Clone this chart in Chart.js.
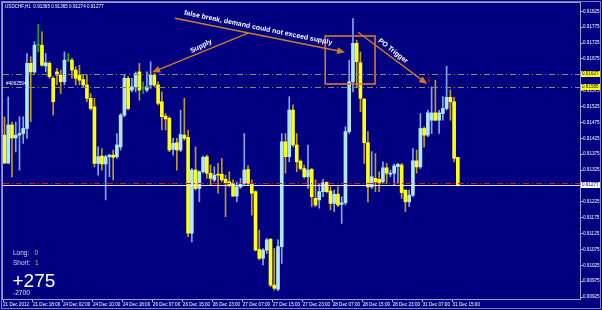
<!DOCTYPE html>
<html>
<head>
<meta charset="utf-8">
<script src="https://cdn.jsdelivr.net/npm/chart.js@4.4.0/dist/chart.umd.min.js"></script>
<style>
  html, body { margin: 0; padding: 0; background: #000080; }
  #wrap { width: 602px; height: 310px; }
</style>
</head>
<body>
<div id="wrap"><canvas id="chart" width="602" height="310"></canvas></div>
<script>
// USDCHF H1, 21 Dec 2012 - 31 Dec 2012
const timeLabels = ['21 Dec 2012', '21 Dec 18:00', '24 Dec 02:00', '24 Dec 10:00', '24 Dec 18:00',
  '26 Dec 07:00', '26 Dec 15:00', '26 Dec 23:00', '27 Dec 07:00', '27 Dec 15:00', '27 Dec 23:00',
  '28 Dec 07:00', '28 Dec 15:00', '28 Dec 23:00', '31 Dec 07:00', '31 Dec 15:00'];

const priceTicks = [0.91825, 0.91775, 0.91725, 0.91675, 0.91625, 0.91575, 0.91525, 0.91475, 0.91425,
  0.91375, 0.91325, 0.91275, 0.91225, 0.91175, 0.91125, 0.91075, 0.91025, 0.90975, 0.90925];

const openP = [
  0.91435,0.91347,0.91467,0.91426,0.91435,0.91440,0.91456,0.91661,0.91634,0.91718,
  0.91718,0.91653,0.91661,0.91614,0.91634,0.91624,0.91603,0.91671,0.91671,0.91640,
  0.91624,0.91610,0.91593,0.91551,0.91524,0.91346,0.91369,0.91344,0.91367,0.91372,
  0.91367,0.91398,0.91498,0.91614,0.91577,0.91587,0.91634,0.91582,0.91577,0.91593,
  0.91624,0.91593,0.91540,0.91495,0.91488,0.91390,0.91411,0.91388,0.91435,0.91428,
  0.91126,0.91325,0.91267,0.91320,0.91367,0.91315,0.91294,0.91311,0.91312,0.91296,
  0.91288,0.91283,0.91243,0.91272,0.91283,0.91327,0.91283,0.91257,0.91075,0.91047,
  0.91073,0.91107,0.90963,0.90950,0.91084,0.91414,0.91367,0.91514,0.91404,0.91353,
  0.91330,0.91304,0.91327,0.91236,0.91231,0.91257,0.91286,0.91259,0.91220,0.91249,
  0.91217,0.91222,0.91446,0.91603,0.91724,0.91663,0.91548,0.91411,0.91272,0.91299,
  0.91296,0.91288,0.91332,0.91312,0.91315,0.91336,0.91341,0.91262,0.91225,0.91246,
  0.91354,0.91335,0.91456,0.91435,0.91482,0.91505,0.91482,0.91503,0.91519,0.91554,
  0.91540,0.91365];
const highP = [
  0.91492,0.91555,0.91476,0.91476,0.91493,0.91493,0.91692,0.91682,0.91729,0.91784,
  0.91760,0.91692,0.91666,0.91619,0.91645,0.91640,0.91697,0.91692,0.91677,0.91650,
  0.91655,0.91624,0.91624,0.91566,0.91551,0.91398,0.91393,0.91372,0.91374,0.91388,
  0.91440,0.91503,0.91624,0.91619,0.91614,0.91634,0.91661,0.91603,0.91634,0.91666,
  0.91629,0.91603,0.91571,0.91503,0.91493,0.91425,0.91425,0.91514,0.91551,0.91451,
  0.91330,0.91398,0.91322,0.91369,0.91372,0.91341,0.91335,0.91346,0.91362,0.91309,
  0.91320,0.91294,0.91288,0.91299,0.91440,0.91339,0.91294,0.91260,0.91136,0.91078,
  0.91110,0.91110,0.91078,0.91105,0.91440,0.91440,0.91556,0.91530,0.91440,0.91357,
  0.91341,0.91404,0.91330,0.91294,0.91283,0.91296,0.91288,0.91272,0.91262,0.91272,
  0.91241,0.91461,0.91671,0.91802,0.91734,0.91697,0.91551,0.91446,0.91383,0.91377,
  0.91320,0.91351,0.91346,0.91325,0.91344,0.91346,0.91346,0.91262,0.91262,0.91393,
  0.91388,0.91503,0.91461,0.91514,0.91587,0.91608,0.91514,0.91556,0.91652,0.91577,
  0.91554,0.91365];
const lowP = [
  0.91345,0.91345,0.91303,0.91382,0.91325,0.91409,0.91425,0.91477,0.91629,0.91697,
  0.91652,0.91634,0.91614,0.91498,0.91593,0.91566,0.91593,0.91666,0.91614,0.91593,
  0.91593,0.91587,0.91540,0.91514,0.91335,0.91309,0.91325,0.91231,0.91304,0.91294,
  0.91362,0.91388,0.91493,0.91514,0.91571,0.91571,0.91545,0.91566,0.91571,0.91582,
  0.91587,0.91530,0.91451,0.91451,0.91383,0.91372,0.91325,0.91383,0.91419,0.91115,
  0.91099,0.91262,0.91225,0.91315,0.91299,0.91278,0.91288,0.91252,0.91288,0.91178,
  0.91272,0.91241,0.91225,0.91267,0.91278,0.91278,0.91183,0.91070,0.91042,0.91026,
  0.91063,0.90958,0.90947,0.90945,0.91031,0.91315,0.91351,0.91398,0.91320,0.91325,
  0.91299,0.91267,0.91210,0.91210,0.91205,0.91241,0.91254,0.91199,0.91194,0.91210,
  0.91157,0.91215,0.91440,0.91571,0.91587,0.91509,0.91346,0.91225,0.91267,0.91257,
  0.91257,0.91283,0.91283,0.91304,0.91278,0.91283,0.91236,0.91194,0.91210,0.91241,
  0.91315,0.91330,0.91398,0.91430,0.91440,0.91480,0.91440,0.91482,0.91514,0.91482,
  0.91351,0.91274];
const closeP = [
  0.91347,0.91467,0.91426,0.91435,0.91440,0.91456,0.91661,0.91634,0.91718,0.91718,
  0.91655,0.91663,0.91619,0.91540,0.91624,0.91603,0.91671,0.91671,0.91640,0.91614,
  0.91608,0.91593,0.91551,0.91519,0.91346,0.91367,0.91344,0.91367,0.91372,0.91365,
  0.91404,0.91498,0.91614,0.91519,0.91587,0.91629,0.91577,0.91582,0.91587,0.91624,
  0.91593,0.91535,0.91493,0.91486,0.91388,0.91409,0.91388,0.91437,0.91425,0.91126,
  0.91325,0.91267,0.91320,0.91365,0.91315,0.91299,0.91309,0.91309,0.91294,0.91283,
  0.91278,0.91243,0.91272,0.91283,0.91325,0.91283,0.91252,0.91073,0.91047,0.91073,
  0.91105,0.90963,0.90953,0.91084,0.91414,0.91367,0.91514,0.91404,0.91351,0.91330,
  0.91304,0.91325,0.91241,0.91215,0.91257,0.91285,0.91257,0.91220,0.91249,0.91215,
  0.91222,0.91446,0.91603,0.91724,0.91666,0.91551,0.91411,0.91272,0.91304,0.91288,
  0.91285,0.91332,0.91315,0.91315,0.91338,0.91343,0.91254,0.91225,0.91246,0.91354,
  0.91335,0.91456,0.91435,0.91505,0.91505,0.91482,0.91505,0.91519,0.91554,0.91540,
  0.91362,0.91277];

// horizontal levels drawn on the chart
const supplyLevels = [0.91627, 0.91585];
const signalLevel = 0.91283;
const bidPrice = 0.91277;

// ----------------------
// colours
// ----------------------
const navy = '#000080';
const wickCol = { bull: '#7fa6e8', bear: '#c09a20', doji: '#10a818' };
const bodyCol = { bull: '#b4e6fa', bear: '#ffff10', doji: '#10a818' };
const orange = '#d07a30';
const tickFont = { family: 'Liberation Sans', size: 4.6 };

const idx = openP.map((_, i) => i);
const kind = i => closeP[i] > openP[i] ? 'bull' : (closeP[i] < openP[i] ? 'bear' : 'doji');

// ----------------------
// drawing helpers
// ----------------------
function hLine(ctx, a, py, color, dash) {
  ctx.strokeStyle = color;
  ctx.lineWidth = 1;
  ctx.setLineDash(dash);
  ctx.beginPath();
  ctx.moveTo(a.left, py);
  ctx.lineTo(a.right, py);
  ctx.stroke();
  ctx.setLineDash([]);
}

function arrow(ctx, x0, y0, x1, y1) {
  const ang = Math.atan2(y1 - y0, x1 - x0);
  const len = 8, half = 3.5;
  ctx.strokeStyle = orange;
  ctx.fillStyle = orange;
  ctx.lineWidth = 1.4;
  ctx.beginPath();
  ctx.moveTo(x0, y0);
  ctx.lineTo(x1 - Math.cos(ang) * len * 0.8, y1 - Math.sin(ang) * len * 0.8);
  ctx.stroke();
  ctx.beginPath();
  ctx.moveTo(x1, y1);
  ctx.lineTo(x1 - Math.cos(ang) * len - Math.sin(ang) * half, y1 - Math.sin(ang) * len + Math.cos(ang) * half);
  ctx.lineTo(x1 - Math.cos(ang) * len + Math.sin(ang) * half, y1 - Math.sin(ang) * len - Math.cos(ang) * half);
  ctx.closePath();
  ctx.fill();
}

function rotText(ctx, s, x, y, deg) {
  ctx.save();
  ctx.translate(x, y);
  ctx.rotate(deg * Math.PI / 180);
  ctx.font = 'bold 7px "Liberation Sans"';
  ctx.fillStyle = '#ffffff';
  ctx.textAlign = 'center';
  ctx.textBaseline = 'middle';
  ctx.fillText(s, 0, 0);
  ctx.restore();
}

function txt(ctx, s, x, y, font, color, base) {
  ctx.font = font;
  ctx.fillStyle = color;
  ctx.textAlign = 'left';
  ctx.textBaseline = base || 'middle';
  ctx.fillText(s, x, y);
}

function tag(ctx, a, py, label, bg) {
  ctx.fillStyle = bg;
  ctx.fillRect(a.right + 1, py - 3, 19, 6);
  txt(ctx, label, a.right + 2, py, '4.6px "Liberation Sans"', '#000040');
}

// ----------------------
// plugin: background, levels, annotations, texts
// ----------------------
const decor = {
  id: 'decor',
  beforeDraw(chart) {
    const { ctx, width, height } = chart;
    ctx.save();
    ctx.fillStyle = navy;
    ctx.fillRect(0, 0, width, height);
    ctx.restore();
  },
  afterDatasetsDraw(chart) {
    const { ctx, chartArea: a, scales: { x, y } } = chart;
    const py = v => Math.round(y.getPixelForValue(v)) + 0.5;
    ctx.save();
    supplyLevels.forEach(v => hLine(ctx, a, py(v), '#8c8a4c', [6, 3, 1, 3]));
    hLine(ctx, a, py(signalLevel), '#c8143c', [6, 3, 1, 3]);
    hLine(ctx, a, py(bidPrice), '#e8e8e8', []);

    // annotations (bar index, price)
    const P = (i, v) => [x.getPixelForValue(i), y.getPixelForValue(v)];
    const fb0 = P(45.5, 0.91803), fb1 = P(90.9, 0.91696);
    const sp0 = P(65.0, 0.91756), sp1 = P(39.4, 0.91633);
    const po0 = P(94.4, 0.91759), po1 = P(112.8, 0.91596);
    arrow(ctx, fb0[0], fb0[1], fb1[0], fb1[1]);
    arrow(ctx, sp0[0], sp0[1], sp1[0], sp1[1]);
    arrow(ctx, po0[0], po0[1], po1[0], po1[1]);

    const b0 = P(85.6, 0.91747), b1 = P(98.9, 0.91596);
    ctx.strokeStyle = orange;
    ctx.lineWidth = 1.6;
    ctx.strokeRect(b0[0], b0[1], b1[0] - b0[0], b1[1] - b0[1]);

    let t = P(67.7, 0.91773);
    rotText(ctx, 'false break, demand could not exceed supply', t[0], t[1], 11.5);
    t = P(52.5, 0.91715);
    rotText(ctx, 'Supply', t[0], t[1], -27);
    t = P(103.7, 0.91700);
    rotText(ctx, 'PO Trigger', t[0], t[1], 38);

    // sell signal mark
    const m = P(113.3, 0.91608);
    ctx.font = '7px "DejaVu Sans"';
    ctx.fillStyle = '#e01010';
    ctx.textAlign = 'center';
    ctx.textBaseline = 'middle';
    ctx.fillText('\u21D3', m[0], m[1]);
    ctx.restore();
  },
  afterDraw(chart) {
    const { ctx, chartArea: a, scales: { y } } = chart;
    ctx.save();
    // frames
    ctx.strokeStyle = '#9c9cc8';
    ctx.lineWidth = 1;
    ctx.strokeRect(a.left - 0.5, a.top - 0.5, a.width + 1, a.height + 1);
    ctx.strokeStyle = '#7c7cb0';
    ctx.strokeRect(1.5, 1.5, 599, 307);

    // price tags on the right axis
    const py = v => Math.round(y.getPixelForValue(v));
    tag(ctx, a, py(supplyLevels[0]), supplyLevels[0].toFixed(5), '#ffff00');
    tag(ctx, a, py(supplyLevels[1]), supplyLevels[1].toFixed(5), '#ffff00');
    tag(ctx, a, py(bidPrice), bidPrice.toFixed(5), '#ffffff');

    // header + object label
    txt(ctx, 'USDCHF,H1  0.91365 0.91365 0.91274 0.91277', 5, 7, '4.6px "Liberation Sans"', '#ffffff');
    txt(ctx, '#40625941', 6, py(supplyLevels[1]) - 3, '4.6px "Liberation Sans"', '#ffffff');

    // trade panel
    txt(ctx, 'Long:', 13, 253.5, '6.5px "Liberation Sans"', '#d8d8e0');
    txt(ctx, '0', 34.5, 253.5, '6.5px "Liberation Sans"', '#d4c000');
    txt(ctx, 'Short:', 13, 263.5, '6.5px "Liberation Sans"', '#d8d8e0');
    txt(ctx, '1', 35, 263.5, '6.5px "Liberation Sans"', '#d4c000');
    txt(ctx, '+275', 12.5, 287, '19px "Liberation Sans"', '#ffffff', 'alphabetic');
    txt(ctx, '-2700', 13, 293.5, '6.6px "Liberation Sans"', '#e0e0e8');
    ctx.restore();
  }
};

// ----------------------
// chart
// ----------------------
new Chart(document.getElementById('chart'), {
  type: 'bar',
  data: {
    datasets: [
      {
        label: 'body',
        data: idx.map(i => ({ x: i, y: [Math.min(openP[i], closeP[i]), Math.max(openP[i], closeP[i])] })),
        backgroundColor: idx.map(i => bodyCol[kind(i)]),
        barThickness: 3,
        minBarLength: 1,
        grouped: false,
        order: 0
      },
      {
        label: 'wick',
        data: idx.map(i => ({ x: i, y: [lowP[i], highP[i]] })),
        backgroundColor: idx.map(i => wickCol[kind(i)]),
        barThickness: 1,
        grouped: false,
        order: 1
      }
    ]
  },
  options: {
    responsive: false,
    animation: false,
    events: [],
    layout: { padding: { left: 3, top: 3, right: 0, bottom: 0 } },
    plugins: { legend: { display: false }, tooltip: { enabled: false } },
    scales: {
      x: {
        type: 'linear',
        min: -0.4,
        max: 153.6,
        offset: false,
        border: { display: false },
        grid: { offset: false, drawOnChartArea: false, drawTicks: true, tickLength: 3, color: '#b0b0d0' },
        afterBuildTicks: s => { s.ticks = timeLabels.map((_, k) => ({ value: k * 8 - 0.4 })); },
        ticks: {
          autoSkip: false, maxRotation: 0, minRotation: 0, align: 'start', padding: 0,
          color: '#ffffff', font: tickFont,
          callback: (v, i) => timeLabels[i]
        },
        afterFit: s => { s.height = 11; }
      },
      y: {
        position: 'right',
        min: 0.90919,
        max: 0.91851,
        border: { display: false },
        grid: { drawOnChartArea: false, drawTicks: true, tickLength: 3, color: '#b0b0d0' },
        afterBuildTicks: s => { s.ticks = priceTicks.map(v => ({ value: v })); },
        ticks: {
          padding: 0, color: '#ffffff', font: tickFont,
          callback: v => Number(v).toFixed(5)
        },
        afterFit: s => { s.width = 22; }
      }
    }
  },
  plugins: [decor]
});
</script>
</body>
</html>
